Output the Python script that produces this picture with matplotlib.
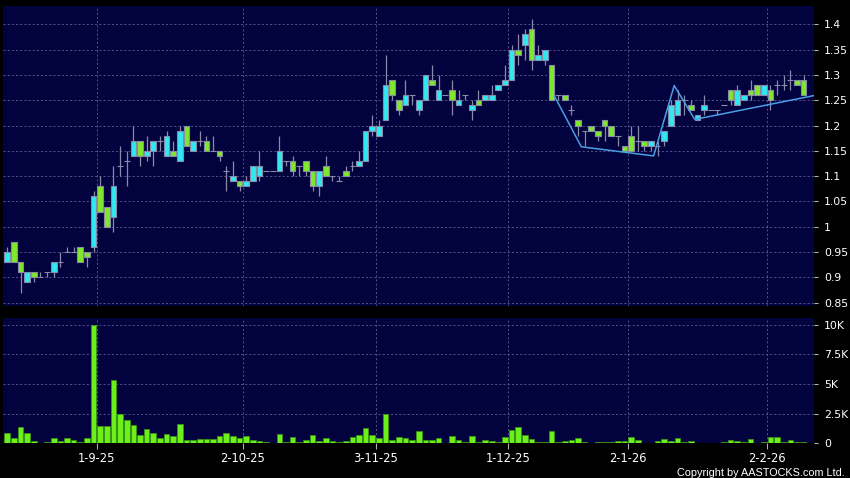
import numpy as np
import matplotlib
matplotlib.use("Agg")
import matplotlib.pyplot as plt
from matplotlib.ticker import FixedLocator, FuncFormatter

# daily OHLC, one entry per trading session (oldest first)
opens = [0.93, 0.97, 0.93, 0.89, 0.91, 0.90, 0.91, 0.91, 0.93, 0.95,
         0.95, 0.96, 0.95, 0.96, 1.08, 1.04, 1.02, 1.12, 1.13, 1.14,
         1.17, 1.14, 1.15, 1.17, 1.14, 1.15, 1.13, 1.20, 1.15, 1.17,
         1.17, 1.15, 1.15, 1.11, 1.09, 1.09, 1.08, 1.09, 1.10, 1.11,
         1.11, 1.11, 1.13, 1.13, 1.12, 1.13, 1.11, 1.08, 1.12, 1.10,
         1.09, 1.11, 1.12, 1.12, 1.13, 1.19, 1.18, 1.21, 1.29, 1.25,
         1.24, 1.26, 1.23, 1.25, 1.29, 1.25, 1.26, 1.27, 1.24, 1.26,
         1.23, 1.25, 1.25, 1.25, 1.27, 1.28, 1.29, 1.35, 1.36, 1.39,
         1.33, 1.33, 1.32, 1.26, 1.26, 1.23, 1.21, 1.19, 1.20, 1.19,
         1.21, 1.20, 1.18, 1.16, 1.18, 1.17, 1.17, 1.16, 1.16, 1.17,
         1.20, 1.22, 1.25, 1.24, 1.21, 1.23, 1.23, 1.23, 1.24, 1.27,
         1.24, 1.25, 1.27, 1.28, 1.26, 1.27, 1.28, 1.28, 1.29, 1.29,
         1.29]
highs = [0.96, 0.97, 0.93, 0.91, 0.91, 0.91, 0.91, 0.93, 0.95, 0.96,
         0.96, 0.96, 0.95, 1.07, 1.10, 1.04, 1.12, 1.16, 1.15, 1.20,
         1.17, 1.18, 1.17, 1.18, 1.19, 1.17, 1.20, 1.20, 1.17, 1.19,
         1.18, 1.18, 1.15, 1.12, 1.13, 1.09, 1.10, 1.12, 1.15, 1.11,
         1.11, 1.18, 1.13, 1.14, 1.12, 1.13, 1.11, 1.11, 1.14, 1.10,
         1.10, 1.12, 1.13, 1.15, 1.19, 1.22, 1.21, 1.34, 1.29, 1.25,
         1.29, 1.26, 1.25, 1.30, 1.32, 1.30, 1.26, 1.29, 1.27, 1.26,
         1.25, 1.27, 1.26, 1.28, 1.28, 1.32, 1.36, 1.38, 1.39, 1.41,
         1.36, 1.35, 1.32, 1.26, 1.26, 1.24, 1.21, 1.19, 1.20, 1.19,
         1.21, 1.20, 1.18, 1.16, 1.20, 1.20, 1.17, 1.17, 1.17, 1.19,
         1.25, 1.27, 1.26, 1.25, 1.22, 1.26, 1.23, 1.23, 1.24, 1.27,
         1.28, 1.26, 1.29, 1.28, 1.28, 1.28, 1.29, 1.30, 1.31, 1.29,
         1.30]
lows = [0.93, 0.93, 0.87, 0.89, 0.89, 0.90, 0.90, 0.90, 0.92, 0.95,
        0.95, 0.93, 0.92, 0.95, 1.03, 1.00, 0.99, 1.10, 1.08, 1.14,
        1.12, 1.13, 1.12, 1.15, 1.14, 1.14, 1.13, 1.16, 1.15, 1.16,
        1.15, 1.15, 1.13, 1.07, 1.09, 1.07, 1.08, 1.09, 1.09, 1.11,
        1.11, 1.11, 1.12, 1.10, 1.10, 1.10, 1.07, 1.06, 1.10, 1.09,
        1.09, 1.10, 1.11, 1.12, 1.13, 1.18, 1.18, 1.21, 1.25, 1.22,
        1.24, 1.24, 1.22, 1.25, 1.28, 1.25, 1.26, 1.22, 1.24, 1.25,
        1.21, 1.24, 1.25, 1.25, 1.27, 1.28, 1.29, 1.32, 1.33, 1.31,
        1.33, 1.32, 1.25, 1.25, 1.25, 1.22, 1.18, 1.16, 1.19, 1.17,
        1.17, 1.18, 1.16, 1.15, 1.15, 1.15, 1.15, 1.15, 1.14, 1.16,
        1.20, 1.22, 1.22, 1.23, 1.21, 1.22, 1.23, 1.22, 1.24, 1.24,
        1.24, 1.25, 1.25, 1.26, 1.26, 1.23, 1.26, 1.27, 1.27, 1.28,
        1.26]
closes = [0.95, 0.93, 0.91, 0.91, 0.90, 0.90, 0.91, 0.93, 0.93, 0.95,
          0.95, 0.93, 0.94, 1.06, 1.03, 1.00, 1.08, 1.12, 1.13, 1.17,
          1.14, 1.15, 1.17, 1.17, 1.18, 1.14, 1.19, 1.16, 1.17, 1.17,
          1.15, 1.15, 1.14, 1.11, 1.10, 1.08, 1.09, 1.12, 1.12, 1.11,
          1.11, 1.15, 1.13, 1.11, 1.12, 1.11, 1.08, 1.11, 1.10, 1.10,
          1.09, 1.10, 1.12, 1.13, 1.19, 1.20, 1.20, 1.28, 1.26, 1.23,
          1.26, 1.26, 1.25, 1.30, 1.28, 1.27, 1.26, 1.25, 1.25, 1.26,
          1.24, 1.24, 1.26, 1.26, 1.28, 1.29, 1.35, 1.34, 1.38, 1.33,
          1.34, 1.35, 1.25, 1.26, 1.25, 1.23, 1.20, 1.19, 1.19, 1.18,
          1.20, 1.18, 1.18, 1.15, 1.15, 1.17, 1.16, 1.17, 1.16, 1.19,
          1.24, 1.25, 1.25, 1.23, 1.22, 1.24, 1.23, 1.23, 1.24, 1.25,
          1.27, 1.26, 1.26, 1.26, 1.28, 1.25, 1.28, 1.28, 1.29, 1.28,
          1.26]
# volume in thousands of shares
volumes = [0.84, 0.45, 1.35, 0.90, 0.22, 0.05, 0.14, 0.45, 0.22, 0.45,
           0.28, 0.11, 0.45, 10.0, 1.49, 1.49, 5.34, 2.44, 1.94, 1.52,
           0.67, 1.21, 0.84, 0.45, 0.81, 0.59, 1.63, 0.31, 0.31, 0.37,
           0.39, 0.39, 0.65, 0.90, 0.62, 0.45, 0.62, 0.25, 0.17, 0.08,
           0.02, 0.79, 0.08, 0.56, 0.11, 0.25, 0.73, 0.20, 0.48, 0.17,
           0.11, 0.17, 0.50, 0.70, 1.29, 0.73, 0.45, 2.50, 0.28, 0.53,
           0.48, 0.28, 1.04, 0.28, 0.28, 0.48, 0.05, 0.62, 0.28, 0.08,
           0.65, 0.08, 0.28, 0.22, 0.14, 0.56, 1.12, 1.35, 0.73, 0.39,
           0.11, 0.11, 1.01, 0.08, 0.20, 0.25, 0.45, 0.08, 0.05, 0.08,
           0.08, 0.08, 0.20, 0.17, 0.50, 0.31, 0.05, 0.02, 0.20, 0.34,
           0.20, 0.45, 0.08, 0.20, 0.05, 0.05, 0.03, 0.05, 0.14, 0.28,
           0.20, 0.08, 0.37, 0.05, 0.08, 0.53, 0.53, 0.08, 0.25, 0.14,
           0.11]

# month start markers (session index) and their labels
date_pos = [13.5, 35.5, 55.5, 75.5, 93.5, 114.5]
date_labels = ["1-9-25", "2-10-25", "3-11-25", "1-12-25", "2-1-26", "2-2-26"]

# hand drawn trend line (session index, price)
trend_x = [82.5, 86.5, 97.4, 100.5, 103.6, 121.5]
trend_y = [1.257, 1.158, 1.14, 1.279, 1.212, 1.259]

price_ticks = [0.85, 0.9, 0.95, 1.0, 1.05, 1.1, 1.15, 1.2, 1.25, 1.3, 1.35, 1.4]
vol_ticks = [0, 2.5, 5, 7.5, 10]
vol_labels = ["0", "2.5K", "5K", "7.5K", "10K"]

UP = "#2ee8f2"
DOWN = "#7ee82a"
BG = "#02023f"
GRID = "#5c5c90"
EDGE = "#8a8aa8"

o = np.array(opens)
h = np.array(highs)
l = np.array(lows)
c = np.array(closes)
x = np.arange(len(o))

fig = plt.figure(figsize=(8.5, 4.78), dpi=100, facecolor="black")
ax = fig.add_axes([0.0039, 0.3598, 0.954, 0.6276])
axv = fig.add_axes([0.0039, 0.0726, 0.954, 0.2615])

for a in (ax, axv):
    a.set_facecolor(BG)
    for s in a.spines.values():
        s.set_visible(False)
    a.grid(True, color=GRID, linestyle=(0, (2.5, 2.5)), linewidth=0.6)
    a.set_axisbelow(True)
    a.yaxis.tick_right()
    a.tick_params(axis="y", colors="#b0b0b0", labelcolor="white",
                  labelsize=7.8, length=3, width=0.8, pad=4, direction="out")
    a.set_xlim(-0.6, 121.6)
    a.xaxis.set_major_locator(FixedLocator(date_pos))

# candles
colors = np.where(c > o, UP, np.where(c < o, DOWN, EDGE))
ax.vlines(x, l, h, color=EDGE, linewidth=0.9, zorder=2)
ax.bar(x, np.abs(c - o), bottom=np.minimum(o, c), width=0.86,
       color=colors, edgecolor=EDGE, linewidth=0.8, zorder=3)
ax.plot(trend_x, trend_y, color="#4a9ee4", linewidth=1.1, zorder=4)

ax.set_ylim(0.8435, 1.436)
ax.yaxis.set_major_locator(FixedLocator(price_ticks))
ax.yaxis.set_major_formatter(FuncFormatter(lambda v, p: "%g" % v))
ax.tick_params(axis="x", length=0, labelbottom=False)

# volume
axv.bar(x, volumes, width=0.85, color="#6cf01c", edgecolor="#3c9a10",
        linewidth=0.5, zorder=3)
axv.set_ylim(0, 10.54)
axv.yaxis.set_major_locator(FixedLocator(vol_ticks))
axv.set_yticklabels(vol_labels)
axv.set_xticklabels(date_labels)
axv.tick_params(axis="x", colors="#b0b0b0", labelcolor="white",
                labelsize=8.3, length=4, width=0.8, pad=2.5)

fig.text(0.994, 0.004, "Copyright by AASTOCKS.com Ltd.", color="white",
         fontsize=7.8, ha="right", va="baseline",
         family=["Liberation Sans", "DejaVu Sans"])

fig.savefig("out.png", dpi=100, facecolor="black")
